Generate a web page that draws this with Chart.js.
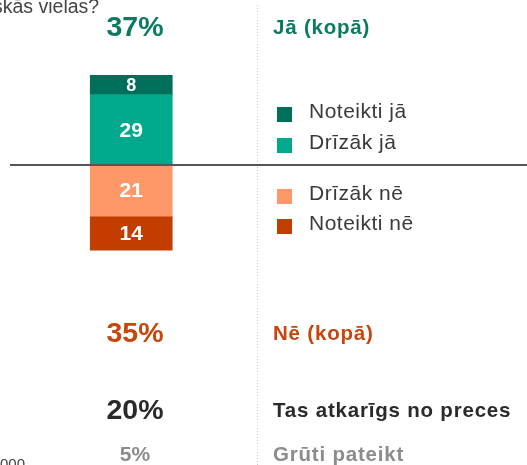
<!DOCTYPE html>
<html>
<head>
<meta charset="utf-8">
<script src="https://cdn.jsdelivr.net/npm/chart.js@4"></script>
<style>
  html, body { margin: 0; padding: 0; background: #fff; overflow: hidden; }
  #chart { display: block; }
</style>
</head>
<body>
<canvas id="chart" width="527" height="465"></canvas>
<script>
// data
const categories = ['Atbildes'];
const segLabels = ['Drīzāk jā', 'Noteikti jā', 'Drīzāk nē', 'Noteikti nē'];
const segValues = [29, 8, -21, -14];
const segColors = ['#00a98b', '#006f5a', '#ff9868', '#c23d00'];
const legendOrder = ['Noteikti jā', 'Drīzāk jā', 'Drīzāk nē', 'Noteikti nē'];

const totalLabels = ['Jā (kopā)', 'Nē (kopā)', 'Tas atkarīgs no preces', 'Grūti pateikt'];
const totalValues = [37, 35, 20, 5];
const totalColors = ['#0b7a62', '#c8450c', '#2a2a2a', '#8c8c8c'];

const FONT = 'Arial, "Liberation Sans", sans-serif';

// labels inside the bar segments
const segmentLabels = {
    id: 'segmentLabels',
    afterDatasetsDraw(chart) {
        const ctx = chart.ctx;
        ctx.save();
        ctx.fillStyle = '#fff';
        ctx.textAlign = 'center';
        ctx.textBaseline = 'middle';
        chart.data.datasets.forEach((ds, i) => {
            const bar = chart.getDatasetMeta(i).data[0];
            const h = Math.abs(bar.base - bar.y);
            ctx.font = 'bold ' + (h < 25 ? 18 : 21) + 'px ' + FONT;
            ctx.fillText(Math.abs(ds.data[0]), bar.x, (bar.y + bar.base) / 2 + 1);
        });
        ctx.restore();
    }
};

// zero line, divider, legend, totals, cut-off texts
const decorations = {
    id: 'decorations',
    beforeDatasetsDraw(chart) {
        const ctx = chart.ctx;
        ctx.save();
        // dotted divider
        ctx.strokeStyle = '#c8c8c8';
        ctx.lineWidth = 1;
        ctx.setLineDash([1, 2]);
        ctx.beginPath();
        ctx.moveTo(257.5, 5);
        ctx.lineTo(257.5, 465);
        ctx.stroke();
        ctx.restore();
    },
    afterDraw(chart) {
        const ctx = chart.ctx;
        const y0 = chart.scales.y.getPixelForValue(0);
        ctx.save();

        // zero line
        ctx.strokeStyle = '#555';
        ctx.lineWidth = 2;
        ctx.beginPath();
        ctx.moveTo(10, y0);
        ctx.lineTo(527, y0);
        ctx.stroke();

        // cut-off title and note
        ctx.fillStyle = '#444';
        ctx.font = '19.5px ' + FONT;
        ctx.textAlign = 'left';
        ctx.textBaseline = 'alphabetic';
        ctx.fillText('skās vielas?', -7, 13);
        ctx.font = '15px ' + FONT;
        ctx.fillText('000', 0, 469);

        // legend
        const legendY = [111, 142, 193, 223];
        ctx.font = '21px ' + FONT;
        ctx.letterSpacing = '0.5px';
        ctx.textBaseline = 'middle';
        legendOrder.forEach((name, i) => {
            const idx = segLabels.indexOf(name);
            ctx.fillStyle = segColors[idx];
            ctx.fillRect(277, legendY[i] - 4, 15, 15);
            ctx.fillStyle = '#3a3a3a';
            ctx.fillText(name, 309, legendY[i] + 1);
        });

        // totals
        const totalY = [27, 333, 410, 454];
        totalLabels.forEach((name, i) => {
            ctx.fillStyle = totalColors[i];
            ctx.textAlign = 'center';
            ctx.letterSpacing = '0px';
            ctx.font = 'bold ' + (i === 3 ? 21 : 28.5) + 'px ' + FONT;
            ctx.fillText(totalValues[i] + '%', 135, totalY[i] + 1);
            ctx.textAlign = 'left';
            ctx.letterSpacing = '0.8px';
            ctx.font = 'bold 20.5px ' + FONT;
            ctx.fillText(name, 273, totalY[i] + 1);
        });
        ctx.restore();
    }
};

document.addEventListener('DOMContentLoaded', function() {
    const ctx = document.getElementById('chart').getContext('2d');
    new Chart(ctx, {
        type: 'bar',
        data: {
            labels: categories,
            datasets: segLabels.map((name, i) => ({
                label: name,
                data: [segValues[i]],
                backgroundColor: segColors[i],
                borderWidth: 0,
                barThickness: 82
            }))
        },
        options: {
            responsive: false,
            animation: false,
            devicePixelRatio: 1,
            layout: { padding: { left: 0, right: 264.5, top: 0, bottom: 0 } },
            plugins: {
                legend: { display: false },
                tooltip: { enabled: false }
            },
            scales: {
                x: { stacked: true, display: false },
                y: { stacked: true, display: false, min: -123.5, max: 68 }
            }
        },
        plugins: [decorations, segmentLabels]
    });
});
</script>
</body>
</html>
